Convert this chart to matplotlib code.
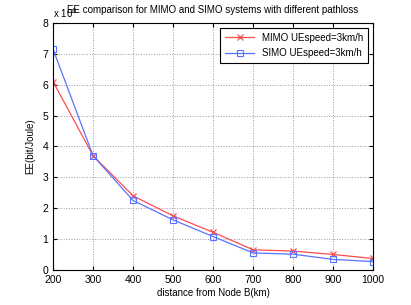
import matplotlib
matplotlib.use("Agg")
import matplotlib.pyplot as plt

plt.rcParams['font.family'] = ['Liberation Sans', 'DejaVu Sans']

distance = [200, 300, 400, 500, 600, 700, 800, 900, 1000]
mimo_ee = [6.1, 3.7, 2.4, 1.75, 1.22, 0.65, 0.61, 0.5, 0.37]
simo_ee = [7.15, 3.7, 2.25, 1.62, 1.08, 0.55, 0.51, 0.34, 0.27]

fig = plt.figure(figsize=(4.11, 3.05), dpi=100)
ax = fig.add_axes([0.129, 0.115, 0.779, 0.81])

ax.plot(distance, mimo_ee, 'x-', color=(1, 0.3, 0.3), lw=0.9, ms=4, mew=0.9,
        label="MIMO UEspeed=3km/h")
ax.plot(distance, simo_ee, 's-', color=(0.35, 0.45, 1), lw=0.9, ms=5, mew=0.8,
        mfc='none', label="SIMO UEspeed=3km/h")

ax.set_xlim(200, 1000)
ax.set_ylim(0, 8)
ax.set_xticks(distance)
ax.set_yticks(range(0, 9))
ax.tick_params(direction='in', labelsize=7.5, length=3, top=True, right=True)
ax.grid(True, linestyle=':', color='0.6', lw=0.7)
for s in ax.spines.values():
    s.set_linewidth(0.8)

ax.set_xlabel("distance from Node B(km)", fontsize=7, labelpad=2)
ax.set_ylabel("EE(bit/Joule)", fontsize=7, labelpad=5)
ax.text(0.0, 1.012, "x 10$^{6}$", transform=ax.transAxes, fontsize=7, ha='left', va='bottom')
ax.set_title("EE comparison for MIMO and SIMO systems with different pathloss",
             fontsize=7, pad=7)

leg = ax.legend(loc='upper right', fontsize=7, fancybox=False, framealpha=1,
                edgecolor='black', handlelength=3.0, labelspacing=0.6,
                borderaxespad=0.5, borderpad=0.5)
leg.get_frame().set_linewidth(0.8)

fig.savefig("out.png", dpi=100)
